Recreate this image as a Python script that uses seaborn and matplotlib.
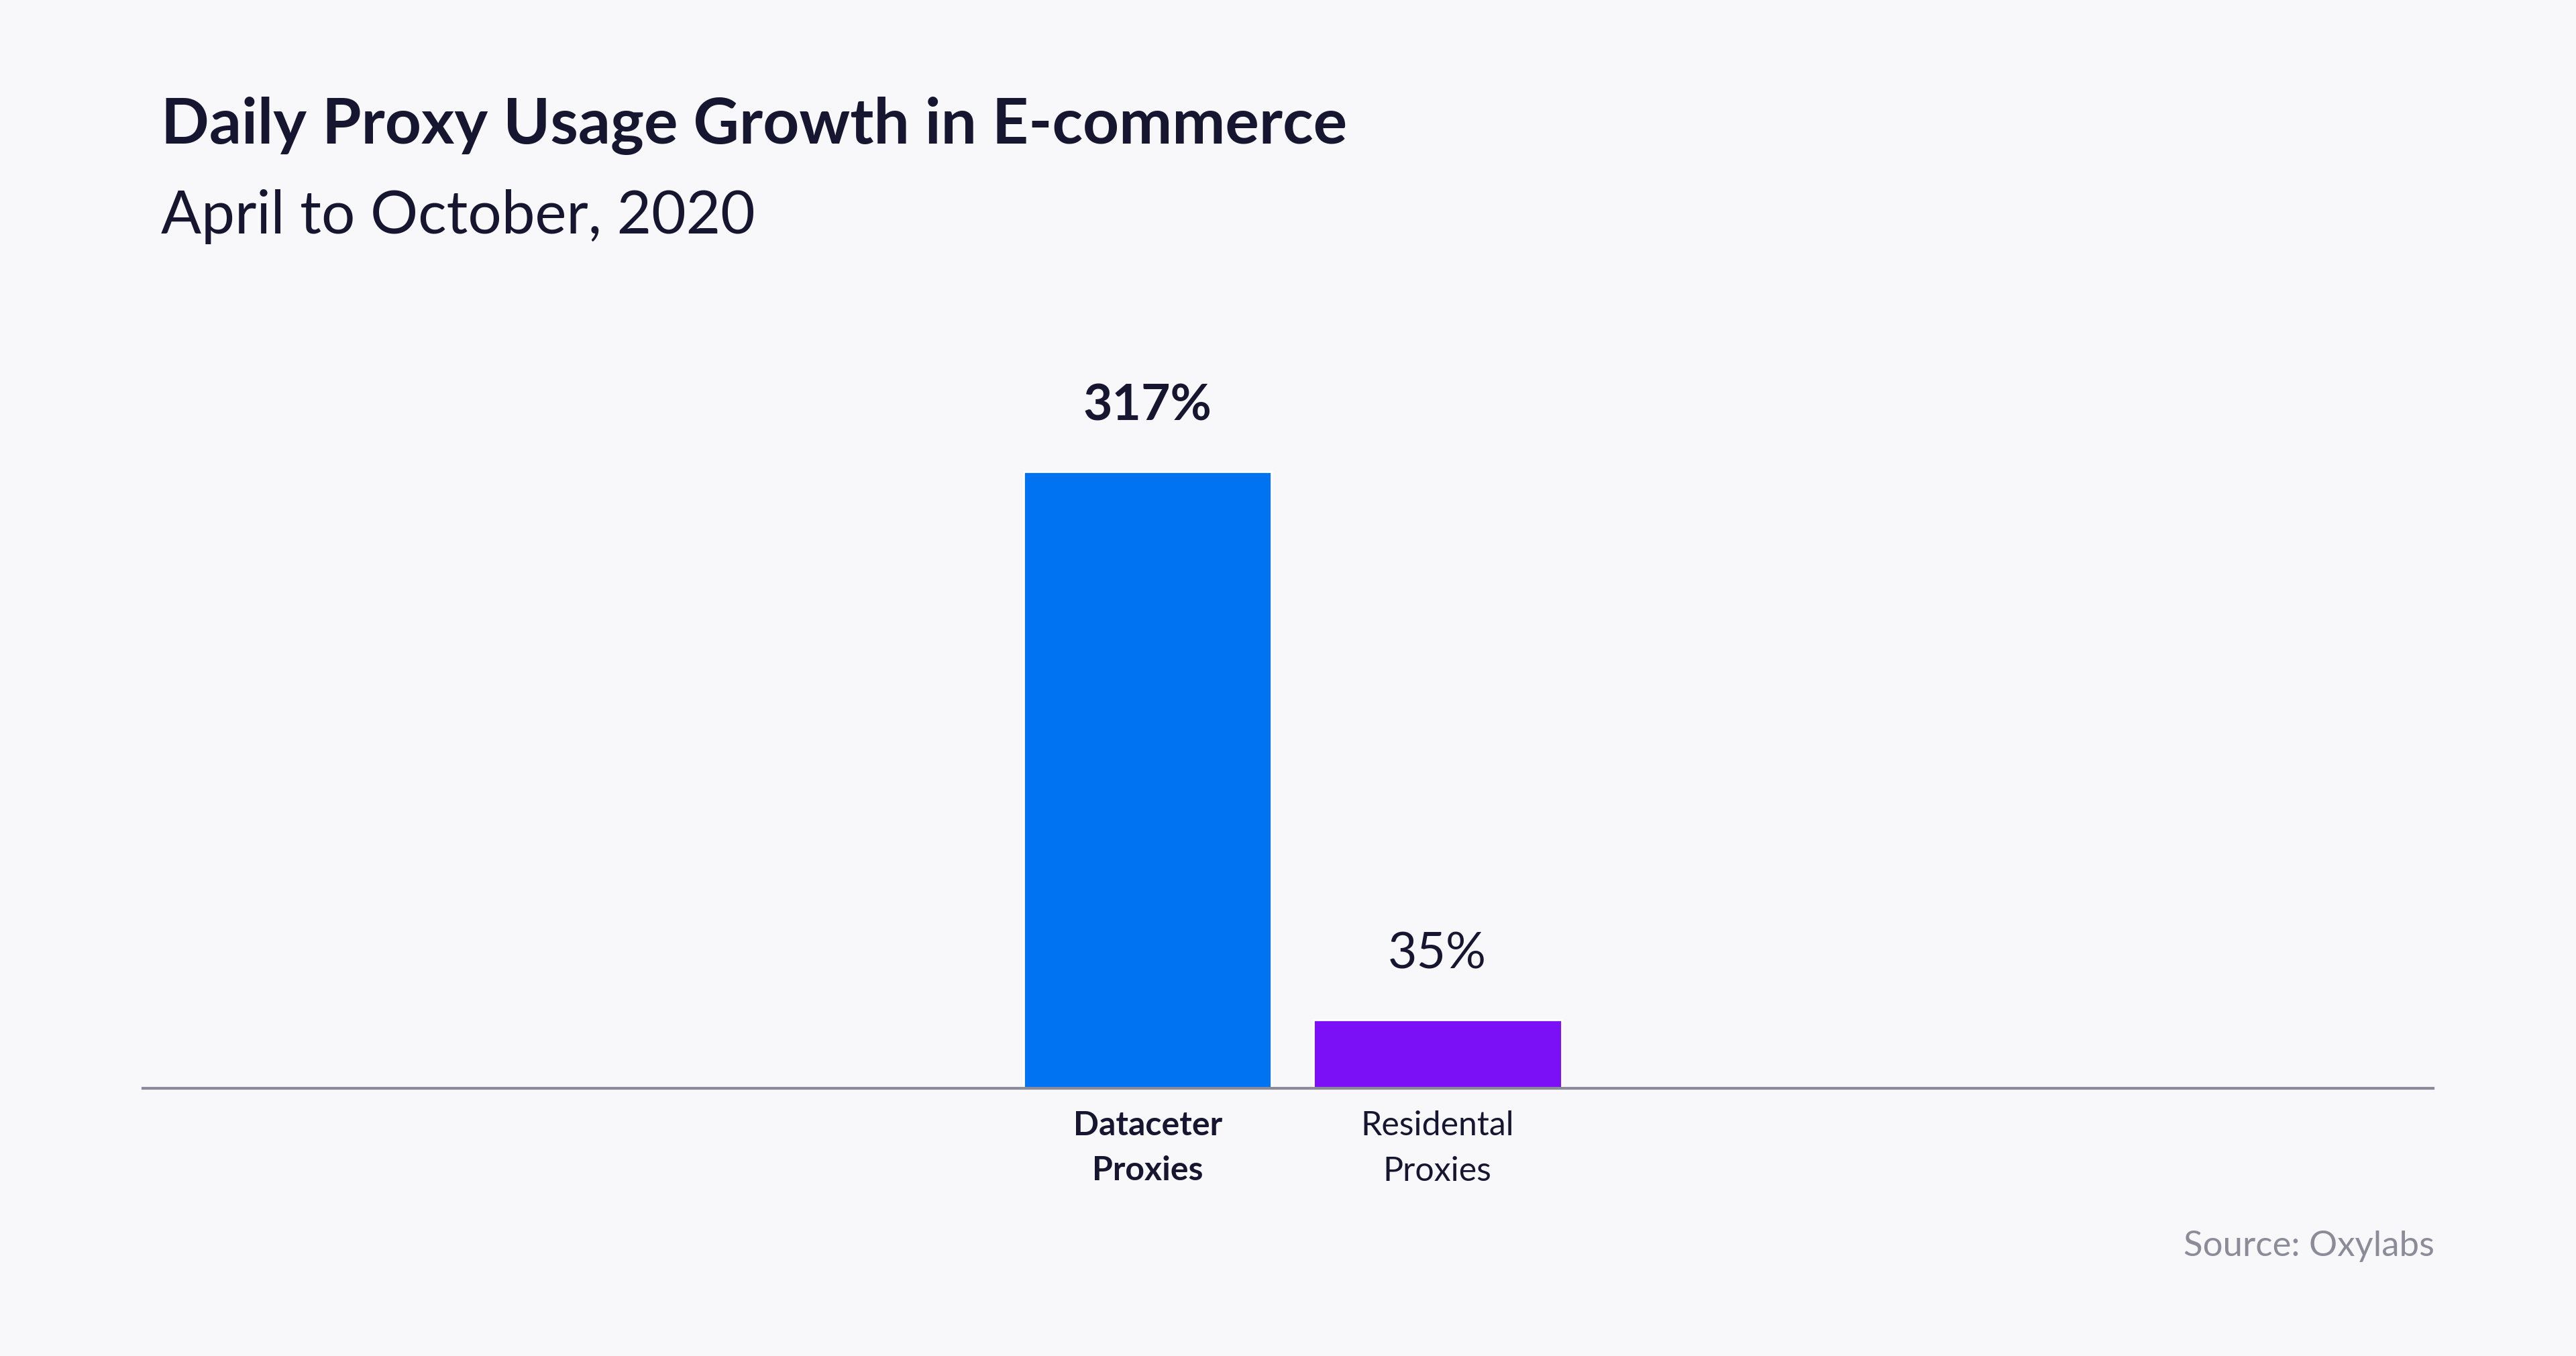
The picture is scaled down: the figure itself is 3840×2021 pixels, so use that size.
import matplotlib.pyplot as plt
import seaborn as sns
import pandas as pd

categories = ["Dataceter\nProxies", "Residental\nProxies"]
growth = [317, 35]
value_labels = ["317%", "35%"]
bar_colors = ["#0073f2", "#7b0ff5"]

sns.set_theme(style="white")
plt.rcParams['font.family'] = ['Lato', 'DejaVu Sans']

bg = "#f8f8fb"
ink = "#161630"
fig = plt.figure(figsize=(19.2, 10.105), dpi=200, facecolor=bg)
ax = fig.add_axes([0.0555, 0.1976, 0.889, 0.56])
ax.set_facecolor(bg)

df = pd.DataFrame({"cat": categories, "val": growth})
sns.barplot(data=df, x="cat", y="val", hue="cat", palette=bar_colors,
            width=0.855, legend=False, ax=ax, saturation=1)

ax.set_xlim(-3.465, 4.434)
ax.set_ylim(0, 390.5)
for s in ["top", "right", "left"]:
    ax.spines[s].set_visible(False)
ax.spines["bottom"].set_color("#8a8a99")
ax.spines["bottom"].set_linewidth(1.5)
ax.set_yticks([])
ax.set_xlabel("")
ax.set_ylabel("")
ax.tick_params(axis="x", length=0, pad=12)
ax.set_xticks([0, 1])
ax.set_xticklabels(categories, fontsize=18, color=ink, linespacing=1.6)
ax.get_xticklabels()[0].set_fontweight("bold")

for i, (v, lab) in enumerate(zip(growth, value_labels)):
    ax.text(i, v + 22, lab, ha="center", va="bottom", fontsize=27,
            color=ink, fontweight="bold" if i == 0 else "normal")

fig.text(0.0625, 0.907, "Daily Proxy Usage Growth in E-commerce", fontsize=34,
         fontweight="bold", color=ink, va="center")
fig.text(0.0625, 0.84, "April to October, 2020", fontsize=32, color=ink, va="center")
fig.text(0.945, 0.081, "Source: Oxylabs", fontsize=19, color="#8c8c99",
         ha="right", va="center")

fig.savefig("out.png", dpi=200, facecolor=bg)
